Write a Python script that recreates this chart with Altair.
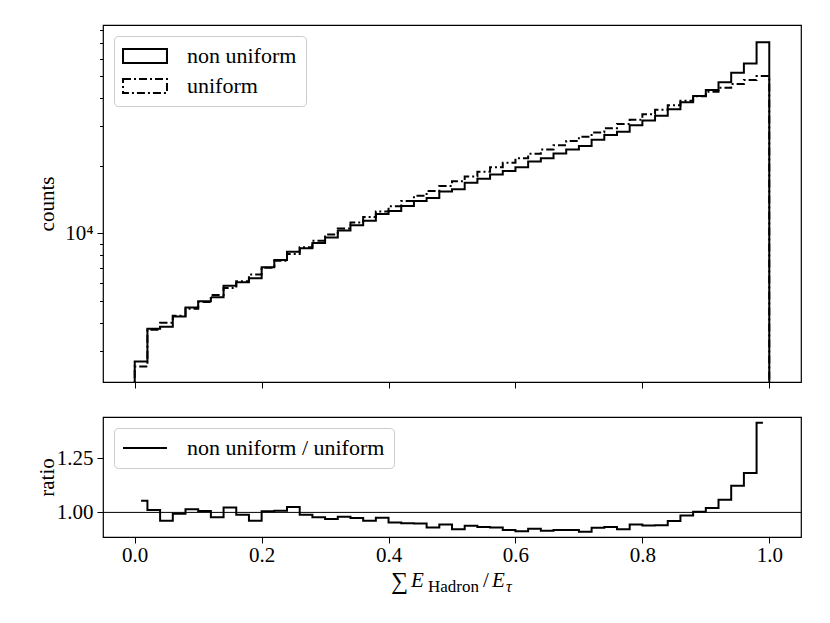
import altair as alt
import pandas as pd

FONT = "Liberation Serif"

# bin edges of the histogram (50 bins on [0, 1])
edges = [0.00, 0.02, 0.04, 0.06, 0.08, 0.10, 0.12, 0.14, 0.16, 0.18,
         0.20, 0.22, 0.24, 0.26, 0.28, 0.30, 0.32, 0.34, 0.36, 0.38,
         0.40, 0.42, 0.44, 0.46, 0.48, 0.50, 0.52, 0.54, 0.56, 0.58,
         0.60, 0.62, 0.64, 0.66, 0.68, 0.70, 0.72, 0.74, 0.76, 0.78,
         0.80, 0.82, 0.84, 0.86, 0.88, 0.90, 0.92, 0.94, 0.96, 0.98, 1.00]

series_names = ["non uniform", "uniform"]

counts_non_uniform = [2691, 3765, 3843, 4269, 4678, 4985, 5199, 5846, 6057, 6305,
                      7066, 7611, 8293, 8575, 9055, 9580, 10310, 10880, 11369, 12188,
                      12589, 13234, 13941, 14369, 15349, 15729, 16800, 17512, 18302, 18941,
                      19703, 20873, 21603, 22663, 23648, 24497, 26123, 27382, 28296, 30265,
                      31813, 33387, 35664, 38355, 40862, 43513, 47083, 51928, 56961, 70920]

counts_uniform = [2553, 3724, 3999, 4295, 4613, 4955, 5321, 5715, 6124, 6561,
                  7031, 7551, 8091, 8670, 9268, 9886, 10520, 11170, 11830, 12500,
                  13210, 13930, 14690, 15450, 16260, 17060, 17910, 18790, 19680, 20610,
                  21580, 22590, 23610, 24660, 25760, 26920, 28120, 29380, 30690, 32060,
                  33880, 35480, 37150, 38900, 40740, 42660, 44460, 46240, 48190, 50120]

ratio_label = "non uniform / uniform"
ratio_values = [1.054, 1.011, 0.961, 0.994, 1.014, 1.006, 0.977, 1.023, 0.989, 0.961,
                1.005, 1.008, 1.025, 0.989, 0.977, 0.969, 0.980, 0.974, 0.961, 0.975,
                0.953, 0.950, 0.949, 0.930, 0.944, 0.922, 0.938, 0.932, 0.930, 0.919,
                0.913, 0.924, 0.915, 0.919, 0.918, 0.910, 0.929, 0.932, 0.922, 0.944,
                0.939, 0.941, 0.960, 0.986, 1.003, 1.020, 1.059, 1.123, 1.182, 1.415]

x_ticks = [0.0, 0.2, 0.4, 0.6, 0.8, 1.0]
count_ticks = [3000, 4000, 5000, 6000, 7000, 8000, 9000, 10000,
               20000, 30000, 40000, 50000, 60000, 70000, 80000]
ratio_ticks = [1.0, 1.25]

# ---------- histogram outlines (step) ----------
floor_value = 1000  # below the visible range: outline drops to the frame
rows = []
for name, counts in zip(series_names, [counts_non_uniform, counts_uniform]):
    pts = [(edges[0], floor_value)]
    pts += [(edges[i], counts[i]) for i in range(len(counts))]
    pts += [(edges[-1], counts[-1]), (edges[-1], floor_value)]
    for k, (xv, yv) in enumerate(pts):
        rows.append({"series": name, "x": xv, "counts": yv, "k": k})
hist_df = pd.DataFrame(rows)

x_scale = alt.Scale(domain=[-0.05, 1.05], nice=False, zero=False)

legend_common = dict(
    title=None, orient="top-left", offset=11, padding=9,
    strokeColor="#cccccc", fillColor="white", cornerRadius=4,
    symbolSize=196, symbolOffset=11, symbolStrokeWidth=2,
    symbolStrokeColor="black",
    labelFont=FONT, labelFontSize=22, labelColor="black",
    labelOffset=31, labelLimit=500, rowPadding=8,
)

top = alt.Chart(hist_df).mark_line(
    interpolate="step-after", clip=True, strokeWidth=2, color="black"
).encode(
    x=alt.X("x:Q", scale=x_scale,
            axis=alt.Axis(values=x_ticks, labels=False, title=None, tickSize=6)),
    y=alt.Y("counts:Q",
            scale=alt.Scale(type="log", domain=[2180, 84600], nice=False),
            axis=alt.Axis(values=count_ticks,
                          labelExpr="datum.value == 10000 ? '10⁴' : ''",
                          tickSize={"condition": {"test": "datum.value == 10000", "value": 6},
                                    "value": 3.5},
                          labelPadding=4,
                          title="counts", titleX=-50, titleBaseline="alphabetic")),
    strokeDash=alt.StrokeDash(
        "series:N",
        scale=alt.Scale(domain=series_names, range=[[1, 0], [8, 3, 2, 3]]),
        legend=alt.Legend(symbolType="M-3.14,-1L3.14,-1L3.14,1L-3.14,1Z",
                          **legend_common)),
    order=alt.Order("k:Q"),
    detail="series:N",
).properties(width=698, height=357)

# ---------- ratio panel ----------
centers = [(edges[i] + edges[i + 1]) / 2 for i in range(len(ratio_values))]
ratio_df = pd.DataFrame({"x": centers, "ratio": ratio_values,
                         "label": [ratio_label] * len(ratio_values)})

ref = alt.Chart(pd.DataFrame({"ref": [1.0]})).mark_rule(
    color="black", strokeWidth=1
).encode(y=alt.Y("ref:Q"))

ratio_line = alt.Chart(ratio_df).mark_line(
    interpolate="step", strokeWidth=2, clip=True
).encode(
    x=alt.X("x:Q", scale=x_scale,
            axis=alt.Axis(values=x_ticks, format=".1f", title=None, tickSize=6,
                          labelPadding=1)),
    y=alt.Y("ratio:Q", scale=alt.Scale(domain=[0.886, 1.442], nice=False, zero=False),
            axis=alt.Axis(values=ratio_ticks, format=".2f", tickSize=6, labelPadding=4,
                          title="ratio", titleX=-50, titleBaseline="alphabetic")),
    color=alt.Color("label:N", scale=alt.Scale(domain=[ratio_label], range=["black"]),
                    legend=alt.Legend(symbolType="M-3.14,0L3.14,0", **legend_common)),
)

def piece(text, xpos, ypos, size, style="normal"):
    return alt.Chart(pd.DataFrame({"t": [text]})).mark_text(
        align="left", baseline="alphabetic", font=FONT, fontSize=size,
        fontStyle=style, color="black"
    ).encode(text="t:N", x=alt.value(xpos), y=alt.value(ypos))

xlabel = [
    piece("∑", 288, 172, 24),
    piece("E", 308, 170, 21, "italic"),
    piece("Hadron", 325, 175, 17),
    piece("/", 380, 170, 21),
    piece("E", 389, 170, 21, "italic"),
    piece("τ", 403, 175, 16, "italic"),
]

bottom = alt.layer(ref, ratio_line, *xlabel).properties(width=698, height=120)

chart = alt.vconcat(top, bottom, spacing=26).resolve_legend(
    color="independent", strokeDash="independent"
).configure(
    padding={"left": 27, "top": 16, "right": 5, "bottom": 5}
).configure_view(
    stroke="black", strokeWidth=1.2
).configure_axis(
    domain=False, grid=False, tickColor="black", tickWidth=1,
    labelFont=FONT, labelFontSize=21, labelColor="black",
    titleFont=FONT, titleFontSize=21, titleColor="black", titleFontWeight="normal"
)

chart.save("out.html", embed_options={"renderer": "svg", "actions": False})
